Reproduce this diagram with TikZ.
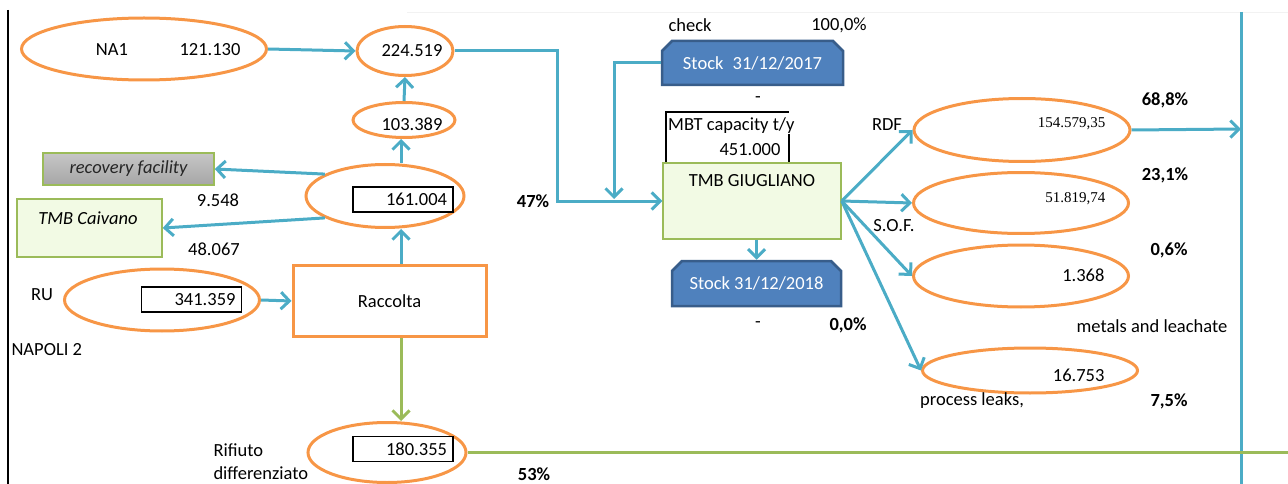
\documentclass[tikz,border=0pt]{standalone}
\usepackage{fontspec}
\setmainfont{Carlito}
\newfontfamily\timesfont{Liberation Serif}
\usetikzlibrary{shapes.geometric,shapes.misc,arrows.meta}
\definecolor{orangeE}{HTML}{F79646}
\definecolor{blueF}{HTML}{4BACC6}
\definecolor{greenF}{HTML}{9BBB59}
\definecolor{stockB}{HTML}{4F81BD}
\definecolor{stockD}{HTML}{385D8A}
\definecolor{paleG}{HTML}{F2FAE4}

\begin{document}
\begin{tikzpicture}[x=1pt, y=-1pt, font=\fontsize{18.5}{21}\selectfont,
    flow/.style={ellipse, draw=orangeE, line width=3pt, inner sep=0pt},
    valbox/.style={draw=black, line width=1.5pt, inner xsep=6pt, inner ysep=0pt,
        minimum height=25pt, text width=88pt, align=right},
    greenbox/.style={draw=greenF, line width=1.5pt, fill=paleG, inner sep=0pt},
    stockbox/.style={chamfered rectangle, chamfered rectangle corners={north west,north east},
        chamfered rectangle xsep=7pt, fill=stockB, draw=stockD, line width=2.5pt,
        text=white, inner sep=0pt},
    arr/.style={draw=blueF, line width=3pt, -{Straight Barb[length=8.5pt,width=17pt]}},
    garr/.style={draw=greenF, line width=3pt, -{Straight Barb[length=8.5pt,width=17pt]}},
    pct/.style={font=\fontsize{18.5}{21}\selectfont\bfseries}]
    \useasboundingbox (0,0) rectangle (1288,484);

    % frame lines of the sheet
    \draw[gray!10, line width=0.8pt] (407,12) -- (1288,12);
    \draw[line width=2pt] (8,10) -- (8,484);
    \coordinate (vtop) at (1241,12);
    \coordinate (vbot) at (1241,484);
    \draw[blueF, line width=3pt] (vtop) -- (vbot);

    % Napoli 2 side
    \node[flow, minimum width=245pt, minimum height=62pt] (na1) at (144,49) {};
    \node (na1lbl) at (112,50) {NA1};
    \node (na1val) at (210,50) {121.130};

    \node[flow, minimum width=96pt, minimum height=49pt] (n224) at (405,51) {};
    \node[anchor=east] (n224val) at (446,51) {224.519};

    \node[flow, minimum width=102pt, minimum height=35pt] (n103) at (404,120) {};
    \node[anchor=east] (n103val) at (446,124) {103.389};

    \node[flow, minimum width=158pt, minimum height=63pt] (n161) at (385,196) {};
    \node[valbox] (v161) at (403,199.5) {161.004};

    \node[draw=greenF, line width=1.5pt, top color=gray!45, bottom color=gray!70,
        minimum width=171pt, minimum height=32pt, inner sep=0pt,
        text=black!85, font=\fontsize{18.5}{21}\selectfont\itshape] (recov) at (128.5,169) {recovery facility};
    \node[greenbox, minimum width=145pt, minimum height=58pt] (caiv) at (89.5,228) {};
    \node[font=\fontsize{18.5}{21}\selectfont\itshape] (caivtxt) at (88,218) {TMB Caivano};
    \node (q9548) at (218,200) {9.548};
    \node (q48067) at (214,249) {48.067};

    \node (rulbl) at (42,295) {RU};
    \node[anchor=west] (napoli) at (8,350) {NAPOLI 2};
    \node[flow, minimum width=195pt, minimum height=62pt] (ru) at (162,300) {};
    \node[valbox] (v341) at (191.5,299.5) {341.359};

    \node[draw=orangeE, line width=3pt, minimum width=193pt, minimum height=71pt] (racc) at (389.5,301) {Raccolta};

    \node[flow, minimum width=158pt, minimum height=60pt] (n180) at (387,452.5) {};
    \node[valbox] (v180) at (403,449) {180.355};
    \node[anchor=west] (rif1) at (210,450) {Rifiuto};
    \node[anchor=west] (rif2) at (210,473) {differenziato};
    \node[pct] (p53) at (534,474) {53\%};
    \node[pct] (p47) at (533,201) {47\%};

    % TMB Giugliano
    \node (chk) at (690,25) {check};
    \node (chkval) at (839,25) {100,0\%};
    \node[stockbox, minimum width=181pt, minimum height=44pt] (st17) at (752.5,63) {Stock\enspace31/12/2017};
    \node (dash1) at (758,100) {-};
    \draw[line width=1.8pt] (666,163) -- (666,112) -- (789,112);
    \draw[line width=1.8pt] (789,134) -- (789,163);
    \node[anchor=west, inner sep=1pt] (mbt) at (667,126) {MBT capacity t/y};
    \node[anchor=east] (mbtval) at (784,150) {451.000};
    \node[greenbox, minimum width=178pt, minimum height=76pt] (tmb) at (752,201) {};
    \node (tmbtxt) at (752,181) {TMB GIUGLIANO};
    \node[stockbox, minimum width=169pt, minimum height=45pt] (st18) at (756.5,283.5) {Stock 31/12/2018};
    \node (dash2) at (758,325) {-};
    \node[pct] (p00) at (848,325) {0,0\%};

    % outputs
    \node[flow, minimum width=216pt, minimum height=63pt] (rdf) at (1022,130) {};
    \node[anchor=east, font=\fontsize{15}{18}\selectfont\timesfont] (rdfval) at (1109,124) {154.579,35};
    \node (rdflbl) at (887,125) {RDF};
    \node[pct] (p688) at (1165,100) {68,8\%};

    \node[flow, minimum width=215pt, minimum height=61pt] (sof) at (1021,203) {};
    \node[anchor=east, font=\fontsize{15}{18}\selectfont\timesfont] (sofval) at (1109,199) {51.819,74};
    \node (soflbl) at (894,226) {S.O.F.};
    \node[pct] (p231) at (1165,175) {23,1\%};

    \node[flow, minimum width=215pt, minimum height=62pt] (met) at (1021,276) {};
    \node[anchor=east] (metval) at (1108,275) {1.368};
    \node[pct] (p06) at (1169,250) {0,6\%};
    \node (metlbl) at (1152,326) {metals and leachate};

    \node[flow, minimum width=215pt, minimum height=45pt] (leak) at (1030,370.5) {};
    \node[anchor=east] (leakval) at (1108,375) {16.753};
    \node (leaklbl) at (972,401) {process leaks,};
    \node[pct] (p75) at (1169,401) {7,5\%};

    % blue flows
    \coordinate (col) at (401,0);
    \coordinate (bend) at (557,51);
    \coordinate (drop) at (614,199);
    \coordinate (rdfend) at (1241,129);
    \draw[arr] (na1.east) -- (n224.west);
    \draw[arr] (n103.north) -- (n224.south);
    \draw[arr] (n161.north -| col) -- (n103.south -| col);
    \draw[arr] (n161.160) -- (recov.east);
    \draw[arr] (n161.200) -- (caiv.east);
    \draw[arr] (ru.east) -- (racc.west);
    \draw[arr] (racc.north -| col) -- (n161.south -| col);
    \draw[arr] (n224.east) -- (bend) |- (tmb.west);
    \draw[arr] (st17.west) -| (drop);
    \draw[arr] (tmb.south -| st18.north) -- (st18.north);
    \draw[arr] (tmb.east) -- (rdf.west);
    \draw[arr] (tmb.east) -- (sof.west);
    \draw[arr] (tmb.east) -- (met.west);
    \draw[arr] (tmb.east) -- (leak.west);
    \draw[arr] (rdf.east) -- (rdfend);

    % green flows
    \coordinate (gend) at (1288,451);
    \draw[garr] (racc.south -| col) -- (n180.north -| col);
    \draw[greenF, line width=3pt] (n180.east) -- (n180.east -| gend);
\end{tikzpicture}
\end{document}
